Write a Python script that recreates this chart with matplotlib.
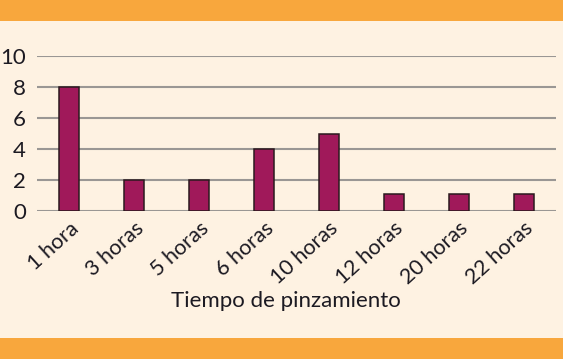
import matplotlib
matplotlib.use("Agg")
import matplotlib.pyplot as plt
from matplotlib.patches import Rectangle

categories = ["1 hora", "3 horas", "5 horas", "6 horas", "10 horas", "12 horas", "20 horas", "22 horas"]
values = [8.05, 2.0, 2.0, 4.0, 5.0, 1.1, 1.1, 1.1]
yticks = [0, 2, 4, 6, 8, 10]

bg = "#FEF2E2"
band = "#F8A73D"
bar_color = "#A0195A"
text_color = "#1c1a22"

plt.rcParams['font.family'] = ['Lato', 'DejaVu Sans']

fig = plt.figure(figsize=(5.63, 3.59), dpi=100)
fig.patch.set_facecolor(bg)

# orange bands top and bottom
fig.add_artist(Rectangle((0, 0.9415), 1, 0.0585, transform=fig.transFigure,
                         facecolor=band, edgecolor="none"))
fig.add_artist(Rectangle((0, 0), 1, 0.0593, transform=fig.transFigure,
                         facecolor=band, edgecolor="none"))

ax = fig.add_axes([0.0657, 0.4114, 0.922, 0.4318])
ax.set_facecolor(bg)

x = range(len(categories))
ax.bar(x, values, width=0.31, color=bar_color, edgecolor="#2a1a1e", linewidth=1.1, zorder=3)

ax.set_xlim(-0.5, len(categories) - 0.5)
ax.set_ylim(0, 10)
ax.set_yticks(yticks)
ax.set_yticklabels([str(t) for t in yticks], fontsize=16, color=text_color)
ax.set_xticks(list(x))
ax.set_xticklabels(categories, rotation=42, ha="right", rotation_mode="anchor",
                   fontsize=15.5, color=text_color)
ax.tick_params(axis="y", length=0, pad=8)
ax.tick_params(axis="x", length=0, pad=5)

ax.yaxis.grid(True, color="#9a9794", linewidth=1.5, zorder=0)
ax.set_axisbelow(True)
for s in ax.spines.values():
    s.set_visible(False)

fig.text(286 / 563, 1 - 301 / 359, "Tiempo de pinzamiento", ha="center", va="center",
         fontsize=16, color=text_color)

fig.savefig("out.png", dpi=100, facecolor=bg)
